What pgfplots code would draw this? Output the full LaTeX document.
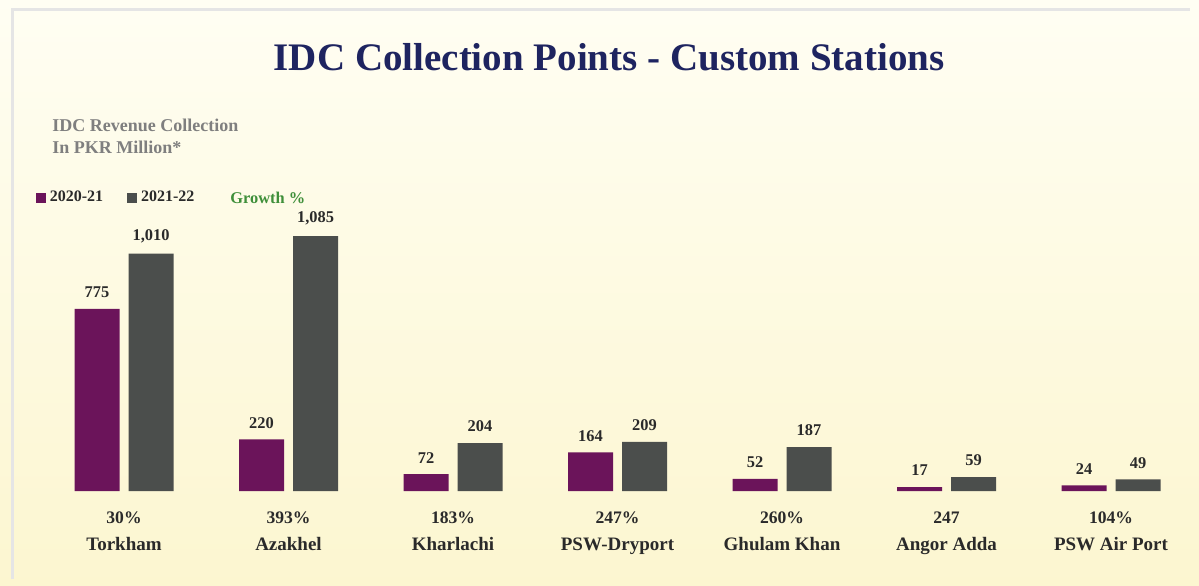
\documentclass[border=0pt]{standalone}
\usepackage{fontspec}
\setmainfont{Liberation Serif}
\usepackage{pgfplots}
\pgfplotsset{compat=1.18}
\definecolor{purp}{HTML}{6B145A}
\definecolor{grayb}{HTML}{4B4E4C}
\definecolor{navy}{HTML}{1E2460}
\definecolor{subgray}{HTML}{7F7F7F}
\definecolor{grn}{HTML}{3F8F3A}
\definecolor{txt}{HTML}{2A2A2A}
\definecolor{bgtop}{HTML}{FFFEF3}
\definecolor{bgbot}{HTML}{FCF6D0}
\begin{document}
\begin{tikzpicture}
\shade[top color=bgtop, bottom color=bgbot] (0,0) rectangle (599.5pt,292.5pt);
\draw[black!10, line width=1.5pt] (6pt,3pt) -- (6pt,287.5pt) -- (595pt,287.5pt);
\begin{axis}[
  at={(0,0)}, anchor=south west,
  scale only axis, width=599.5pt, height=292.5pt,
  hide axis, clip=false,
  xmin=-0.7538, xmax=6.535, ymin=-400, ymax=2089.4,
  ybar, bar width=22.5pt,
  nodes near coords,
  every node near coord/.append style={font=\bfseries\fontsize{8.2}{9}\selectfont, text=txt, yshift=2pt},
  /pgf/number format/.cd, 1000 sep={,}, assume math mode=true, /pgfplots/.cd,
  legend style={at={(rel axis cs:0.0295,0.6615)}, anchor=west, draw=none, fill=none,
    font=\bfseries\fontsize{8}{9}\selectfont, text=txt, inner sep=0pt,
    /tikz/every even column/.append style={column sep=10pt}},
  legend columns=-1,
]
\addplot[fill=purp, draw=none, bar shift=-13.5pt,
  legend image code/.code={\fill[purp] (0pt,-2.6pt) rectangle (5pt,2.6pt);}]
  coordinates {(0,775) (1,220) (2,72) (3,164) (4,52) (5,17) (6,24)};
\addlegendentry{2020-21}
\addplot[fill=grayb, draw=none, bar shift=13.5pt,
  legend image code/.code={\fill[grayb] (0pt,-2.6pt) rectangle (5pt,2.6pt);}]
  coordinates {(0,1010) (1,1085) (2,204) (3,209) (4,187) (5,59) (6,49)};
\addlegendentry{2021-22}

\node[font=\bfseries\fontsize{19.5}{22}\selectfont, text=navy] at (rel axis cs:0.508,0.903) {IDC Collection Points - Custom Stations};
\node[font=\bfseries\fontsize{9}{11}\selectfont, text=subgray, anchor=west, inner sep=0pt] at (rel axis cs:0.0434,0.7863) {IDC Revenue Collection};
\node[font=\bfseries\fontsize{9}{11}\selectfont, text=subgray, anchor=west, inner sep=0pt] at (rel axis cs:0.0434,0.7487) {In PKR Million*};
\node[font=\bfseries\fontsize{8.2}{9}\selectfont, text=grn, anchor=west, inner sep=0pt] at (rel axis cs:0.1918,0.6615) {Growth \%};

\foreach \i/\g/\n in {0/30\%/Torkham, 1/393\%/Azakhel, 2/183\%/Kharlachi, 3/247\%/PSW-Dryport, 4/260\%/Ghulam Khan, 5/247/Angor Adda, 6/104\%/PSW Air Port} {
  \edef\temp{\noexpand\node[anchor=base, inner sep=0pt, font=\noexpand\bfseries\noexpand\fontsize{8.8}{10}\noexpand\selectfont, text=txt] at (axis cs:\i,-140) {\g};}
  \temp
  \edef\temp{\noexpand\node[anchor=base, inner sep=0pt, font=\noexpand\bfseries\noexpand\fontsize{9.5}{11}\noexpand\selectfont, text=txt] at (axis cs:\i,-252) {\n};}
  \temp
}
\end{axis}
\end{tikzpicture}
\end{document}
